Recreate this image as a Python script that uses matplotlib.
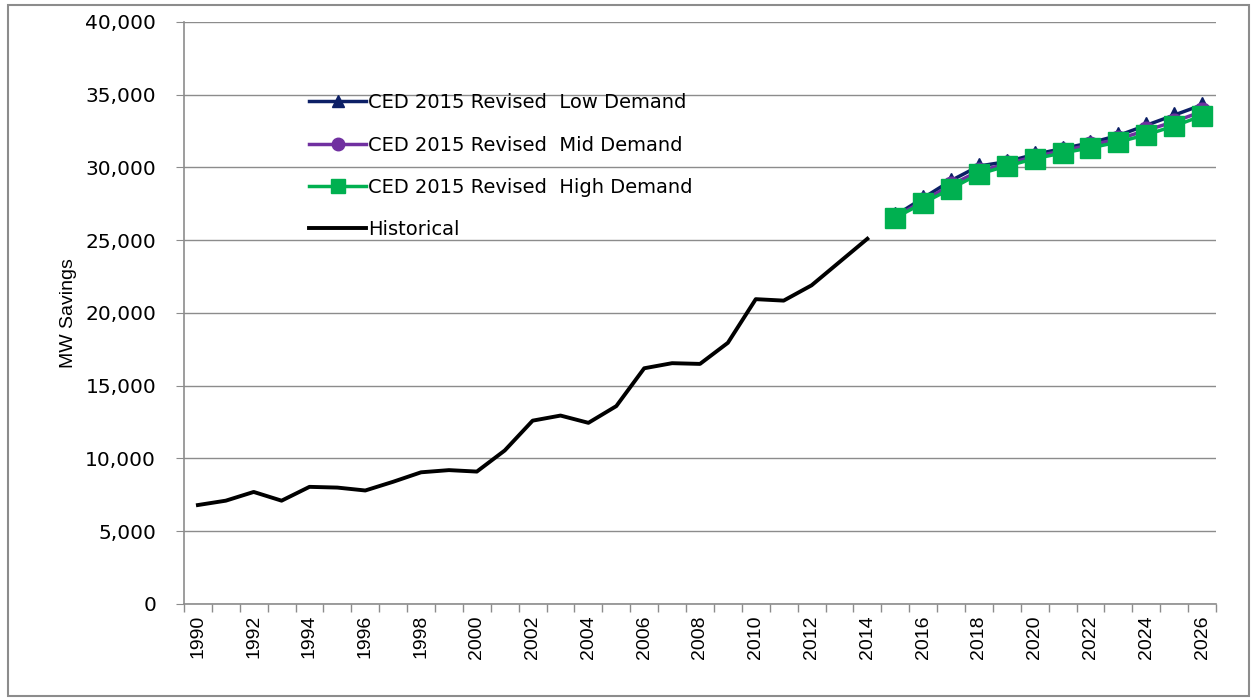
import matplotlib.pyplot as plt
from matplotlib.ticker import FuncFormatter

years = list(range(1990, 2027))
hist_years = list(range(1990, 2015))
fc_years = list(range(2015, 2027))

historical = [6800, 7100, 7700, 7100, 8050, 8000, 7800, 8400, 9050, 9200, 9100,
              10550, 12600, 12950, 12450, 13600, 16200, 16550, 16500, 17950,
              20950, 20850, 21900, 23500, 25100]
low = [26700, 27900, 29100, 30100, 30400, 30900, 31300, 31700, 32200, 32900, 33600, 34300]
mid = [26600, 27700, 28800, 29750, 30250, 30750, 31150, 31550, 31950, 32550, 33150, 33850]
high = [26550, 27550, 28550, 29550, 30100, 30600, 31000, 31350, 31750, 32250, 32850, 33550]

plt.rcParams['font.family'] = ['DejaVu Sans']

fig = plt.figure(figsize=(12.54, 6.98), dpi=100)
ax = fig.add_axes([0.1467, 0.1347, 0.8230, 0.8338])

# outer chart border
fig.patches.append(plt.Rectangle((0.006, 0.003), 0.99, 0.99, transform=fig.transFigure,
                                 fill=False, edgecolor='#8c8c8c', linewidth=1.5))

pos = {y: i for i, y in enumerate(years)}
hx = [pos[y] for y in hist_years]
fx = [pos[y] for y in fc_years]

ax.plot(fx, low, color='#0c1f66', lw=2.5, marker='^', ms=11, label='CED 2015 Revised  Low Demand', zorder=3)
ax.plot(fx, mid, color='#7030a0', lw=2.5, marker='o', ms=12, label='CED 2015 Revised  Mid Demand', zorder=4)
ax.plot(fx, high, color='#00b050', lw=2.5, marker='s', ms=14, label='CED 2015 Revised  High Demand', zorder=5)
ax.plot(hx, historical, color='black', lw=2.8, label='Historical', zorder=3)

ax.set_xlim(-0.5, len(years) - 0.5)
ax.set_ylim(0, 40000)
ax.set_yticks(range(0, 40001, 5000))
ax.yaxis.set_major_formatter(FuncFormatter(lambda v, p: f'{int(v):,}'))
ax.grid(axis='y', color='#8c8c8c', lw=1)
ax.set_axisbelow(True)

ax.set_xticks([pos[y] for y in years if y % 2 == 0])
ax.set_xticklabels([str(y) for y in years if y % 2 == 0], rotation=90, fontsize=14,
                   family='Liberation Sans')
ax.set_xticks([i - 0.5 for i in range(len(years) + 1)], minor=True)
ax.tick_params(axis='x', which='major', length=0, pad=8)
ax.tick_params(axis='x', which='minor', length=6, color='#8c8c8c', width=1)
ax.tick_params(axis='y', length=6, color='#8c8c8c', labelsize=14.5, pad=14)

for s in ['top', 'right']:
    ax.spines[s].set_visible(False)
for s in ['left', 'bottom']:
    ax.spines[s].set_color('#8c8c8c')
    ax.spines[s].set_linewidth(1.2)

ax.set_ylabel('MW Savings', fontsize=14, family='Liberation Sans', labelpad=6)

ax.legend(loc='upper left', bbox_to_anchor=(0.114, 0.891), frameon=False, fontsize=14,
          handlelength=2.9, handletextpad=0.1, labelspacing=1.2, markerscale=0.75,
          borderaxespad=0)

fig.savefig('out.png', dpi=100)
